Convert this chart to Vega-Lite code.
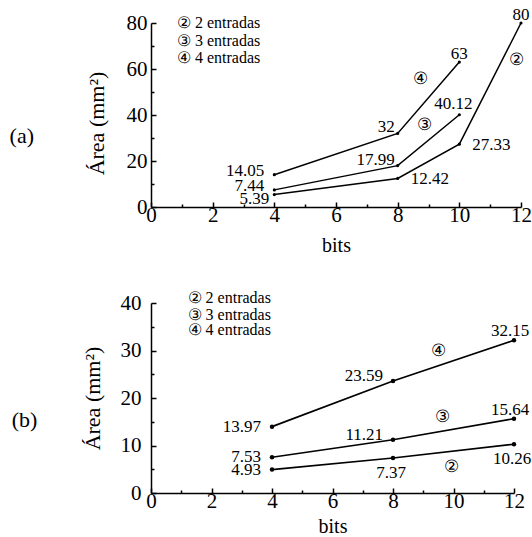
{
  "$schema": "https://vega.github.io/schema/vega-lite/v6.json",
  "padding": {"left": 9, "top": 6, "right": 0, "bottom": 0},
  "config": {
    "view": {"stroke": null},
    "font": "Liberation Serif",
    "axis": {
      "domainColor": "black", "domainWidth": 1.5,
      "tickColor": "black", "tickWidth": 1.5,
      "labelFont": "Liberation Serif", "labelFontSize": 21, "labelColor": "black",
      "titleFont": "Liberation Serif", "titleFontSize": 20, "titleFontWeight": "normal", "titleColor": "black",
      "grid": false, "labelFlush": false, "labelOverlap": false
    },
    "text": {"font": "Liberation Serif", "color": "black"}
  },
  "datasets": {
    "a": [
      {"bits": 4, "area": 5.39, "serie": "2"},
      {"bits": 8, "area": 12.42, "serie": "2"},
      {"bits": 10, "area": 27.33, "serie": "2"},
      {"bits": 12, "area": 80, "serie": "2"},
      {"bits": 4, "area": 7.44, "serie": "3"},
      {"bits": 8, "area": 17.99, "serie": "3"},
      {"bits": 10, "area": 40.12, "serie": "3"},
      {"bits": 4, "area": 14.05, "serie": "4"},
      {"bits": 8, "area": 32, "serie": "4"},
      {"bits": 10, "area": 63, "serie": "4"}
    ],
    "b": [
      {"bits": 4, "area": 4.93, "serie": "2"},
      {"bits": 8, "area": 7.37, "serie": "2"},
      {"bits": 12, "area": 10.26, "serie": "2"},
      {"bits": 4, "area": 7.53, "serie": "3"},
      {"bits": 8, "area": 11.21, "serie": "3"},
      {"bits": 12, "area": 15.64, "serie": "3"},
      {"bits": 4, "area": 13.97, "serie": "4"},
      {"bits": 8, "area": 23.59, "serie": "4"},
      {"bits": 12, "area": 32.15, "serie": "4"}
    ],
    "legA": [
      {"bits": 0.84, "area": 80.1, "texto": "② 2 entradas"},
      {"bits": 0.84, "area": 72.1, "texto": "③ 3 entradas"},
      {"bits": 0.84, "area": 64.9, "texto": "④ 4 entradas"}
    ],
    "legB": [
      {"bits": 1.21, "area": 40.95, "texto": "② 2 entradas"},
      {"bits": 1.21, "area": 37.5, "texto": "③ 3 entradas"},
      {"bits": 1.21, "area": 34.3, "texto": "④ 4 entradas"}
    ],
    "anotA": [
      {"bits": 8.73, "area": 55.8, "texto": "④"},
      {"bits": 8.86, "area": 35.8, "texto": "③"},
      {"bits": 11.86, "area": 64, "texto": "②"}
    ],
    "anotB": [
      {"bits": 9.5, "area": 30, "texto": "④"},
      {"bits": 9.62, "area": 15.9, "texto": "③"},
      {"bits": 9.95, "area": 5.4, "texto": "②"}
    ],
    "panA": [{"bits": -4.19, "area": 31, "texto": "(a)"}],
    "panB": [{"bits": -4.18, "area": 15.4, "texto": "(b)"}]
  },
  "concat": [
    {
      "width": 370, "height": 184,
      "encoding": {
        "x": {"field": "bits", "type": "quantitative", "scale": {"domain": [0, 12], "nice": false},
          "axis": {"values": [0,1,2,3,4,5,6,7,8,9,10,11,12], "labelExpr": "datum.value % 2 ? '' : datum.label",
            "tickSize": {"condition": {"test": "datum.value % 2", "value": -3}, "value": -5},
            "labelPadding": 2, "title": "bits", "titlePadding": 8}},
        "y": {"field": "area", "type": "quantitative", "scale": {"domain": [0, 80], "nice": false},
          "axis": {"values": [0,10,20,30,40,50,60,70,80], "labelExpr": "datum.value % 20 ? '' : datum.label",
            "tickSize": {"condition": {"test": "datum.value % 20", "value": -3}, "value": -5},
            "labelPadding": 9, "title": "Área (mm²)", "titleFontSize": 22, "titlePadding": 18, "titleY": 100}}
      },
      "layer": [
        {"data": {"name": "a"}, "mark": {"type": "line", "color": "black", "strokeWidth": 1.5}, "encoding": {"detail": {"field": "serie"}}},
        {"data": {"name": "a"}, "mark": {"type": "circle", "color": "black", "size": 10, "opacity": 1}},
        {"data": {"name": "a"}, "transform": [{"filter": "datum.bits == 4 && datum.serie != '2'"}],
          "mark": {"type": "text", "align": "right", "baseline": "alphabetic", "dx": -10, "dy": 1, "fontSize": 17},
          "encoding": {"text": {"field": "area", "type": "nominal"}}},
        {"data": {"name": "a"}, "transform": [{"filter": "datum.bits == 4 && datum.serie == '2'"}],
          "mark": {"type": "text", "align": "right", "baseline": "alphabetic", "dx": -5, "dy": 9, "fontSize": 17},
          "encoding": {"text": {"field": "area", "type": "nominal"}}},
        {"data": {"name": "a"}, "transform": [{"filter": "datum.bits == 8 && datum.serie != '2'"}],
          "mark": {"type": "text", "align": "right", "baseline": "alphabetic", "dx": -3, "dy": -1, "fontSize": 17},
          "encoding": {"text": {"field": "area", "type": "nominal"}}},
        {"data": {"name": "a"}, "transform": [{"filter": "datum.serie == '2' && datum.bits > 4 && datum.bits < 12"}],
          "mark": {"type": "text", "align": "left", "baseline": "middle", "dx": 13, "dy": 1, "fontSize": 17},
          "encoding": {"text": {"field": "area", "type": "nominal"}}},
        {"data": {"name": "a"}, "transform": [{"filter": "datum.bits == 12 || (datum.bits == 10 && datum.serie == '4')"}],
          "mark": {"type": "text", "align": "center", "baseline": "alphabetic", "dy": -3, "fontSize": 17},
          "encoding": {"text": {"field": "area", "type": "nominal"}}},
        {"data": {"name": "a"}, "transform": [{"filter": "datum.bits == 10 && datum.serie == '3'"}],
          "mark": {"type": "text", "align": "center", "baseline": "alphabetic", "dx": -6, "dy": -6, "fontSize": 17},
          "encoding": {"text": {"field": "area", "type": "nominal"}}},
        {"data": {"name": "anotA"}, "mark": {"type": "text", "align": "center", "baseline": "middle", "fontSize": 17},
          "encoding": {"text": {"field": "texto", "type": "nominal"}}},
        {"data": {"name": "legA"}, "mark": {"type": "text", "align": "left", "baseline": "middle", "fontSize": 16},
          "encoding": {"text": {"field": "texto", "type": "nominal"}}},
        {"data": {"name": "panA"}, "mark": {"type": "text", "align": "center", "baseline": "middle", "fontSize": 22},
          "encoding": {"text": {"field": "texto", "type": "nominal"}}}
      ]
    },
    {
      "width": 363, "height": 190,
      "encoding": {
        "x": {"field": "bits", "type": "quantitative", "scale": {"domain": [0, 12], "nice": false},
          "axis": {"values": [0,1,2,3,4,5,6,7,8,9,10,11,12], "labelExpr": "datum.value % 2 ? '' : datum.label",
            "tickSize": {"condition": {"test": "datum.value % 2", "value": -3}, "value": -5},
            "labelPadding": 2, "title": "bits", "titlePadding": 3}},
        "y": {"field": "area", "type": "quantitative", "scale": {"domain": [0, 40], "nice": false},
          "axis": {"values": [0,5,10,15,20,25,30,35,40], "labelExpr": "datum.value % 10 ? '' : datum.label",
            "tickSize": {"condition": {"test": "datum.value % 10", "value": -3}, "value": -5},
            "labelPadding": 15, "title": "Área (mm²)", "titleFontSize": 22, "titlePadding": 16}}
      },
      "layer": [
        {"data": {"name": "b"}, "mark": {"type": "line", "color": "black", "strokeWidth": 1.7}, "encoding": {"detail": {"field": "serie"}}},
        {"data": {"name": "b"}, "mark": {"type": "circle", "color": "black", "size": 20, "opacity": 1}},
        {"data": {"name": "b"}, "transform": [{"filter": "datum.bits == 4"}],
          "mark": {"type": "text", "align": "right", "baseline": "middle", "dx": -11, "dy": 0, "fontSize": 17},
          "encoding": {"text": {"field": "area", "type": "nominal"}}},
        {"data": {"name": "b"}, "transform": [{"filter": "datum.bits == 8 && datum.serie != '2'"}],
          "mark": {"type": "text", "align": "right", "baseline": "alphabetic", "dx": -10, "dy": 0, "fontSize": 17},
          "encoding": {"text": {"field": "area", "type": "nominal"}}},
        {"data": {"name": "b"}, "transform": [{"filter": "datum.bits == 12 && datum.serie != '2'"}],
          "mark": {"type": "text", "align": "center", "baseline": "alphabetic", "dx": -4, "dy": -4, "fontSize": 17},
          "encoding": {"text": {"field": "area", "type": "nominal"}}},
        {"data": {"name": "b"}, "transform": [{"filter": "datum.bits > 4 && datum.serie == '2'"}],
          "mark": {"type": "text", "align": "center", "baseline": "top", "dx": -2, "dy": 7, "fontSize": 17},
          "encoding": {"text": {"field": "area", "type": "nominal"}}},
        {"data": {"name": "anotB"}, "mark": {"type": "text", "align": "center", "baseline": "middle", "fontSize": 17},
          "encoding": {"text": {"field": "texto", "type": "nominal"}}},
        {"data": {"name": "legB"}, "mark": {"type": "text", "align": "left", "baseline": "middle", "fontSize": 16},
          "encoding": {"text": {"field": "texto", "type": "nominal"}}},
        {"data": {"name": "panB"}, "mark": {"type": "text", "align": "center", "baseline": "middle", "fontSize": 22},
          "encoding": {"text": {"field": "texto", "type": "nominal"}}}
      ]
    }
  ],
  "columns": 1,
  "spacing": 35
}
